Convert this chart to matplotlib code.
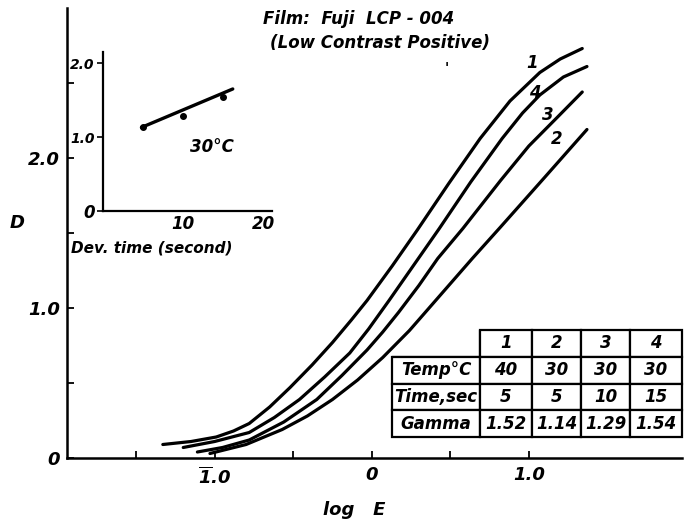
import matplotlib
matplotlib.use("Agg")
import matplotlib.pyplot as plt
from matplotlib.ticker import FixedLocator

plt.rcParams['font.family'] = ['DejaVu Sans']
plt.rcParams['font.style'] = 'italic'
plt.rcParams['font.weight'] = 'bold'
plt.rcParams['mathtext.default'] = 'bfit'

# ---- data ----
c1_x = [-1.33, -1.15, -0.99, -0.88, -0.78, -0.65, -0.52, -0.38, -0.25, -0.13, -0.03,
        0.13, 0.29, 0.49, 0.69, 0.88, 1.07, 1.20, 1.34]
c1_y = [0.09, 0.11, 0.14, 0.18, 0.23, 0.34, 0.47, 0.62, 0.77, 0.92, 1.05,
        1.28, 1.52, 1.83, 2.13, 2.38, 2.57, 2.66, 2.73]
c4_x = [-1.20, -1.00, -0.78, -0.62, -0.46, -0.30, -0.14, -0.02, 0.11, 0.27, 0.43,
        0.63, 0.83, 0.96, 1.07, 1.22, 1.37]
c4_y = [0.07, 0.11, 0.17, 0.27, 0.39, 0.54, 0.70, 0.86, 1.05, 1.29, 1.53,
        1.84, 2.13, 2.30, 2.42, 2.54, 2.61]
c3_x = [-1.11, -0.95, -0.78, -0.56, -0.35, -0.19, -0.03, 0.07, 0.17, 0.30, 0.42,
        0.58, 0.70, 0.82, 1.00, 1.18, 1.34]
c3_y = [0.04, 0.07, 0.12, 0.24, 0.39, 0.55, 0.72, 0.84, 0.97, 1.15, 1.33,
        1.53, 1.69, 1.85, 2.08, 2.27, 2.44]
c2_x = [-1.03, -0.80, -0.57, -0.41, -0.25, -0.09, 0.07, 0.24, 0.44, 0.64, 0.82, 1.10, 1.37]
c2_y = [0.03, 0.09, 0.19, 0.28, 0.39, 0.52, 0.67, 0.85, 1.09, 1.33, 1.54, 1.87, 2.19]

curve_ids = ["1", "2", "3", "4"]
temps = ["40", "30", "30", "30"]
times = ["5", "5", "10", "15"]
gammas = ["1.52", "1.14", "1.29", "1.54"]

dev_time = [5, 10, 15]
dev_gamma = [1.14, 1.29, 1.54]
fit_time = [4.8, 16.2]
fit_gamma = [1.13, 1.65]

x_ticks = [-1.5, -1.0, -0.5, 0.0, 0.5, 1.0]
x_ticklabels = ["", r"$\overline{1}$.0", "", "0", "", "1.0"]
y_ticks = [0.0, 0.5, 1.0, 1.5, 2.0, 2.5]
y_ticklabels = ["0", "", "1.0", "", "2.0", ""]

# ---- figure ----
W, H = 693, 524
fig = plt.figure(figsize=(W / 100, H / 100), dpi=100)
fig.patch.set_facecolor('white')

ax = fig.add_axes([67 / W, 1 - 458 / H, 615 / W, 450 / H])
ax.set_xlim(-1.94, 1.975)
ax.set_ylim(0, 3.0)
for s in ['top', 'right']:
    ax.spines[s].set_visible(False)
for s in ['left', 'bottom']:
    ax.spines[s].set_linewidth(1.8)

lw = 2.3
for xs, ys in [(c1_x, c1_y), (c4_x, c4_y), (c3_x, c3_y), (c2_x, c2_y)]:
    ax.plot(xs, ys, color='black', lw=lw, solid_capstyle='round', solid_joinstyle='round')

ax.xaxis.set_major_locator(FixedLocator(x_ticks))
ax.set_xticklabels(x_ticklabels)
ax.yaxis.set_major_locator(FixedLocator(y_ticks))
ax.set_yticklabels(y_ticklabels)
ax.tick_params(direction='in', length=5, width=1.3, labelsize=13)
ax.tick_params(axis='x', pad=6)
ax.tick_params(axis='y', pad=5)

ax.text((354 - 67) / 615, -(510 - 458) / 450, "log   E", transform=ax.transAxes,
        fontsize=13, ha='center', va='center')
ax.text((17 - 67) / 615, (458 - 223) / 450, "D", transform=ax.transAxes,
        fontsize=13, ha='center', va='center')

# curve labels
for lab, lx, ly in [("1", 1.02, 2.63), ("4", 1.04, 2.43), ("3", 1.12, 2.29), ("2", 1.18, 2.13)]:
    ax.text(lx, ly, lab, fontsize=12, ha='center', va='center')

# title
fig.text(359 / W, 1 - 19 / H, "Film:  Fuji  LCP - 004", fontsize=12,
         ha='center', va='center')
fig.text(380 / W, 1 - 43 / H, "(Low Contrast Positive)", fontsize=12,
         ha='center', va='center')
fig.text(447 / W, 1 - 68 / H, "'", fontsize=10, ha='center', va='center')

# table
cell_text = [[""] + curve_ids,
             ["Temp°C"] + temps,
             ["Time,sec"] + times,
             ["Gamma"] + gammas]
col_px = [88, 52, 49, 49, 52]
tot = sum(col_px)
tb = ax.table(cellText=cell_text, colWidths=[c / tot for c in col_px],
              cellLoc='center',
              bbox=[(392 - 67) / 615, (458 - 437) / 450, 290 / 615, (437 - 330) / 450])
tb.auto_set_font_size(False)
for (r, c), cell in tb.get_celld().items():
    cell.set_linewidth(1.6)
    cell.get_text().set_fontsize(12)
    cell.get_text().set_fontstyle('italic')
    cell.get_text().set_fontweight('bold')
    if r == 0 and c == 0:
        cell.visible_edges = 'BR'

# inset
ax2 = fig.add_axes([103 / W, 1 - 211 / H, 169 / W, 159 / H])
ax2.set_xlim(0, 21.1)
ax2.set_ylim(0, 2.15)
for s in ['top', 'right']:
    ax2.spines[s].set_visible(False)
for s in ['left', 'bottom']:
    ax2.spines[s].set_linewidth(1.6)
ax2.plot(fit_time, fit_gamma, color='black', lw=2.4, solid_capstyle='round')
ax2.plot(dev_time, dev_gamma, 'o', color='black', ms=4)
ax2.set_xticks([10, 20])
ax2.set_xticklabels(["10", "20"], fontsize=12)
ax2.set_yticks([0, 1.0, 2.0])
ax2.set_yticklabels(["0", "1.0", "2.0"], fontsize=10)
ax2.get_yticklabels()[0].set_fontsize(12)
ax2.tick_params(axis='x', length=0, pad=3)
ax2.tick_params(axis='y', direction='out', length=4, width=1.2, pad=2)
ax2.text(13.6, 0.86, "30°C", fontsize=12, ha='center', va='center')
fig.text(152 / W, 1 - 248 / H, "Dev. time (second)", fontsize=11,
         ha='center', va='center')

fig.savefig("out.png", dpi=100, facecolor='white')
